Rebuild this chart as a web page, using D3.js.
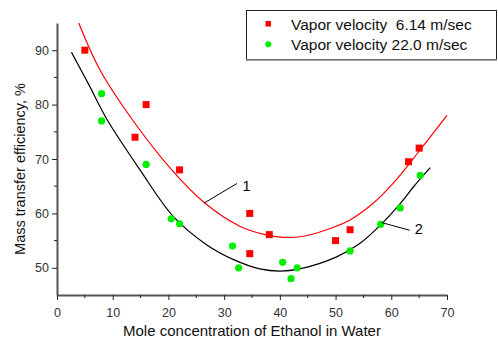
<!DOCTYPE html>
<html>
<head>
  <meta charset="utf-8">
  <title>Mass transfer efficiency vs Ethanol concentration</title>
  <script src="https://d3js.org/d3.v7.min.js"></script>
  <style>
    body { margin: 0; background: #fff; }
    svg { font-family: "Liberation Sans", Arial, sans-serif; }
  </style>
</head>
<body>
  <svg id="chart" width="498" height="341"></svg>
  <script>
    // measured points, vapor velocity 6.14 m/sec (red squares)
    const redX = [5, 14, 16, 22, 34.6, 34.6, 38.1, 50, 52.6, 63.1, 65];
    const redY = [90, 74, 80, 68, 60, 52.6, 56.1, 55, 57, 69.5, 72];

    // measured points, vapor velocity 22.0 m/sec (green circles)
    const greenX = [8, 8, 16, 20.5, 22, 31.5, 32.6, 40.5, 42, 43.1, 52.6, 58.1, 61.6, 65.2];
    const greenY = [82, 77, 69, 59, 58.1, 54, 50, 51, 48, 50, 53.1, 58, 61, 67];

    // fitted curve 1 (red)
    const fit1X = [3.9, 7.7, 13.4, 20.6, 26.3, 32.9, 37.3, 40.6, 44.2, 48.4, 52.6, 56.8, 60.4, 65.2, 70];
    const fit1Y = [95, 86.4, 77.4, 68, 62.1, 57.6, 56.1, 55.6, 55.8, 57, 58.8, 61.9, 65.6, 71.7, 78];

    // fitted curve 2 (black)
    const fit2X = [2.6, 5.9, 8.9, 14.9, 20.9, 26.9, 31.7, 36.4, 40, 43.6, 50.2, 54.4, 58, 61.6, 64, 67];
    const fit2Y = [89.6, 83.3, 77.4, 68, 59.4, 54.2, 51.5, 49.8, 49.4, 49.8, 52, 54.5, 57.8, 61.8, 64.9, 68.4];

    const xTicks = [0, 10, 20, 30, 40, 50, 60, 70];
    const yTicks = [50, 60, 70, 80, 90];
    const legendLabels = ["Vapor velocity  6.14 m/sec", "Vapor velocity 22.0 m/sec"];

    const svg = d3.select("#chart");
    const x = d3.scaleLinear().domain([0, 70]).range([57, 447]);
    const y = d3.scaleLinear().domain([45, 95]).range([295, 23]);

    // axes
    const axisColor = "#555";
    const xAxis = svg.append("g").attr("transform", "translate(0,295)")
      .call(d3.axisBottom(x).tickValues(xTicks).tickSize(5).tickSizeOuter(0));
    const yAxis = svg.append("g").attr("transform", "translate(57,0)")
      .call(d3.axisLeft(y).tickValues(yTicks).tickSize(5).tickSizeOuter(0));

    // minor ticks
    xAxis.selectAll(".minor").data(d3.range(5, 70, 10)).join("line")
      .attr("x1", d => x(d)).attr("x2", d => x(d)).attr("y1", 0).attr("y2", 3)
      .attr("stroke", "#222");
    yAxis.selectAll(".minor").data(d3.range(55, 95, 10)).join("line")
      .attr("y1", d => y(d)).attr("y2", d => y(d)).attr("x1", 0).attr("x2", -3)
      .attr("stroke", "#222");

    [xAxis, yAxis].forEach(a => {
      a.select(".domain").attr("stroke", axisColor).attr("stroke-width", 2);
      a.selectAll(".tick line").attr("stroke", "#222");
      a.selectAll(".tick text").attr("fill", "#333").attr("font-size", 12.5)
        .attr("font-family", "Liberation Sans, Arial, sans-serif");
    });
    xAxis.selectAll(".tick text").attr("dy", "1.1em");

    // axis titles
    svg.append("text").attr("x", 252).attr("y", 336).attr("text-anchor", "middle")
      .attr("font-size", 15).attr("fill", "#111")
      .text("Mole concentration of Ethanol in Water");
    svg.append("text").attr("transform", "translate(25,169) rotate(-90)")
      .attr("text-anchor", "middle").attr("font-size", 14.5).attr("fill", "#111")
      .text("Mass transfer efficiency, %");

    // fitted curves
    const line = d3.line().x(d => x(d[0])).y(d => y(d[1])).curve(d3.curveCatmullRom);
    svg.append("path").datum(d3.zip(fit1X, fit1Y)).attr("d", line)
      .attr("fill", "none").attr("stroke", "#ff0000").attr("stroke-width", 1.2);
    svg.append("path").datum(d3.zip(fit2X, fit2Y)).attr("d", line)
      .attr("fill", "none").attr("stroke", "#000").attr("stroke-width", 1.2);

    // markers
    svg.selectAll(".sq").data(d3.zip(redX, redY)).join("rect")
      .attr("x", d => x(d[0]) - 3.5).attr("y", d => y(d[1]) - 3.5)
      .attr("width", 7).attr("height", 7).attr("fill", "#ff0000");
    svg.selectAll(".ci").data(d3.zip(greenX, greenY)).join("circle")
      .attr("cx", d => x(d[0])).attr("cy", d => y(d[1])).attr("r", 3.6)
      .attr("fill", "#00ee00");

    // curve labels with leader lines
    svg.append("line").attr("x1", x(26.4)).attr("y1", y(61.9)).attr("x2", x(32.3)).attr("y2", y(65.5))
      .attr("stroke", "#000").attr("stroke-width", 1);
    svg.append("text").attr("x", x(33.3)).attr("y", y(64.1)).attr("font-size", 14.5).text("1");
    svg.append("line").attr("x1", x(58.3)).attr("y1", y(58.3)).attr("x2", x(63.3)).attr("y2", y(56.9))
      .attr("stroke", "#000").attr("stroke-width", 1);
    svg.append("text").attr("x", x(64.2)).attr("y", y(56.2)).attr("font-size", 14.5).text("2");

    // legend
    const lg = svg.append("g");
    lg.append("rect").attr("x", 246.5).attr("y", 10.5).attr("width", 250).attr("height", 49)
      .attr("fill", "#fff").attr("stroke", "#222").attr("stroke-width", 1);
    lg.append("line").attr("x1", 246).attr("x2", 497).attr("y1", 60).attr("y2", 60)
      .attr("stroke", "#888").attr("stroke-width", 1.5);
    lg.append("rect").attr("x", 265.5).attr("y", 21).attr("width", 5.5).attr("height", 5.5).attr("fill", "#ff0000");
    lg.append("circle").attr("cx", 268.3).attr("cy", 44.3).attr("r", 3).attr("fill", "#00ee00");
    lg.selectAll(".lt").data(legendLabels).join("text")
      .attr("x", 291).attr("y", (d, i) => 29.5 + i * 20.5)
      .attr("font-size", 15.5).attr("fill", "#111")
      .attr("xml:space", "preserve").style("white-space", "pre")
      .text(d => d);
  </script>
</body>
</html>
